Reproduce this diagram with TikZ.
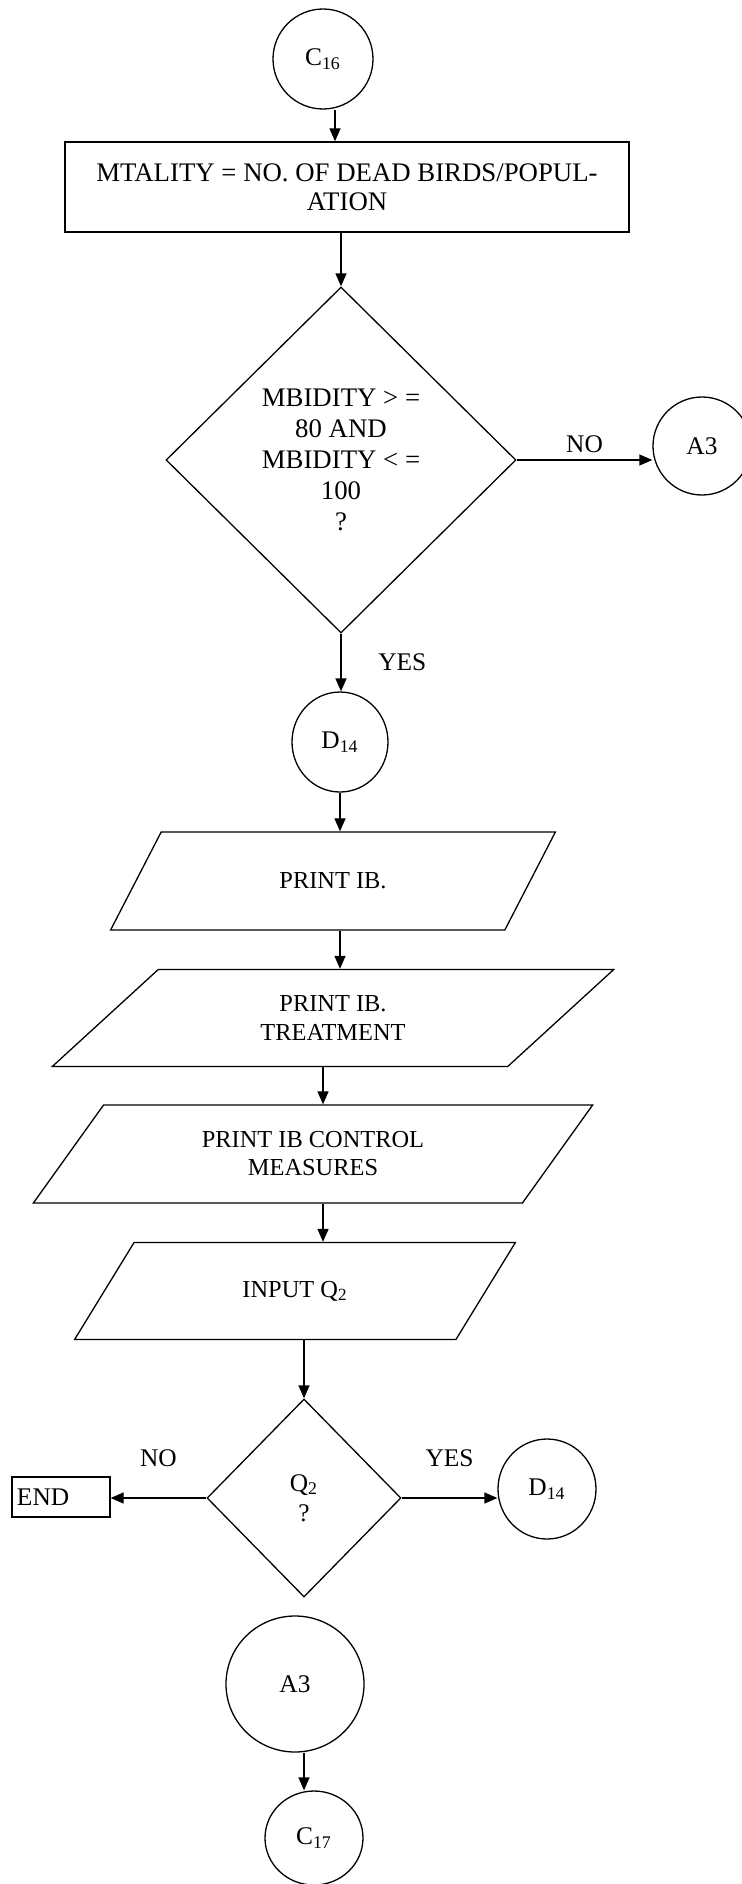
\documentclass[tikz,border=0pt]{standalone}
\usepackage{fontspec}
\setmainfont{Liberation Serif}
\usetikzlibrary{shapes.geometric,arrows.meta}

\begin{document}
\begin{tikzpicture}[x=0.5pt,y=-0.5pt,line width=0.65pt,
  font=\fontsize{12.7}{14.5}\selectfont,
  conn/.style={draw,ellipse,inner sep=0pt},
  procbox/.style={draw,rectangle,minimum width=282pt,minimum height=45pt,align=center,
    font=\fontsize{13.4}{14.5}\selectfont},
  decision/.style={draw,diamond,inner sep=0pt,align=center},
  iobox/.style={draw,trapezium,trapezium left angle=46,trapezium right angle=134,
    trapezium stretches=true,inner sep=0pt,minimum height=49pt,align=center,
    font=\fontsize{12.2}{14}\selectfont},
  arr/.style={-{Triangle[length=6.5pt,width=5.5pt]}}]
  \useasboundingbox (0,0) rectangle (742,1884);

  \node[conn,minimum width=50pt,minimum height=50pt] (c16) at (323,59) {C\textsubscript{16}};
  \node[procbox] (calc) at (347,187) {MTALITY = NO. OF DEAD BIRDS/POPUL-\\ATION};
  \node[decision,minimum width=175pt,minimum height=173pt,
    font=\fontsize{13.4}{15.5}\selectfont] (morb) at (341,460)
    {MBIDITY > =\\80 AND\\MBIDITY < =\\100\\?};
  \node[conn,minimum width=49pt,minimum height=49pt] (a3r) at (702,446) {A3};
  \node[conn,minimum width=48pt,minimum height=50pt] (d14) at (340,742) {D\textsubscript{14}};

  \node[iobox,minimum width=223pt] (p1) at (333,881) {PRINT IB.};
  \node[iobox,minimum width=281pt,minimum height=48.5pt,
    trapezium left angle=45,trapezium right angle=135] (p2) at (333,1018) {PRINT IB.\\TREATMENT};
  \node[iobox,minimum width=280pt,
    trapezium left angle=50,trapezium right angle=130] (p3) at (313,1154) {PRINT IB CONTROL\\MEASURES};
  \node[iobox,minimum width=222pt,minimum height=48.5pt] (p4) at (295,1291) {INPUT Q\textsubscript{2}};

  \node[decision,minimum width=97pt,minimum height=99pt,
    font=\fontsize{12.7}{15}\selectfont] (q2) at (304,1498) {Q\textsubscript{2}\\?};
  \node[draw,rectangle,inner xsep=2.5pt,text width=44pt,minimum height=20pt,align=left] (fin) at (61,1497) {END};
  \node[conn,minimum width=49pt,minimum height=50pt] (d14b) at (547,1489) {D\textsubscript{14}};
  \node[conn,minimum width=69pt,minimum height=68pt] (a3) at (295,1684) {A3};
  \node[conn,minimum width=49pt,minimum height=47pt] (c17) at (314,1838) {C\textsubscript{17}};

  % main line
  \draw[arr] ([xshift=6pt]c16.south) -- ([xshift=6pt]c16.south |- calc.north);
  \draw[arr] (calc.south -| morb) -- (morb.north);
  \draw[arr] (morb.east) -- node[above]{NO} (morb.east -| a3r.west);
  \draw[arr] (morb.south) -- node[right=15pt]{YES} (morb.south |- d14.north);
  \draw[arr] (d14) -- (d14 |- p1.north);
  \draw[arr] (p1.south -| d14) -- (p2.north -| d14);
  \draw[arr] ([xshift=-5pt]p2.south) -- ([xshift=-5pt]p2.south |- p3.north);
  \draw[arr] ([xshift=5pt]p3.south) -- ([xshift=5pt]p3.south |- p4.north);
  \draw[arr] (p4.south -| q2) -- (q2.north);

  % answer to Q2
  \draw[arr] (q2.west) -- node[above=12pt]{NO} (q2.west -| fin.east);
  \draw[arr] (q2.east) -- node[above=12pt]{YES} (q2.east -| d14b.west);

  \draw[arr] ([xshift=4.5pt]a3.south) -- ([xshift=4.5pt]a3.south |- c17.north);
\end{tikzpicture}
\end{document}
